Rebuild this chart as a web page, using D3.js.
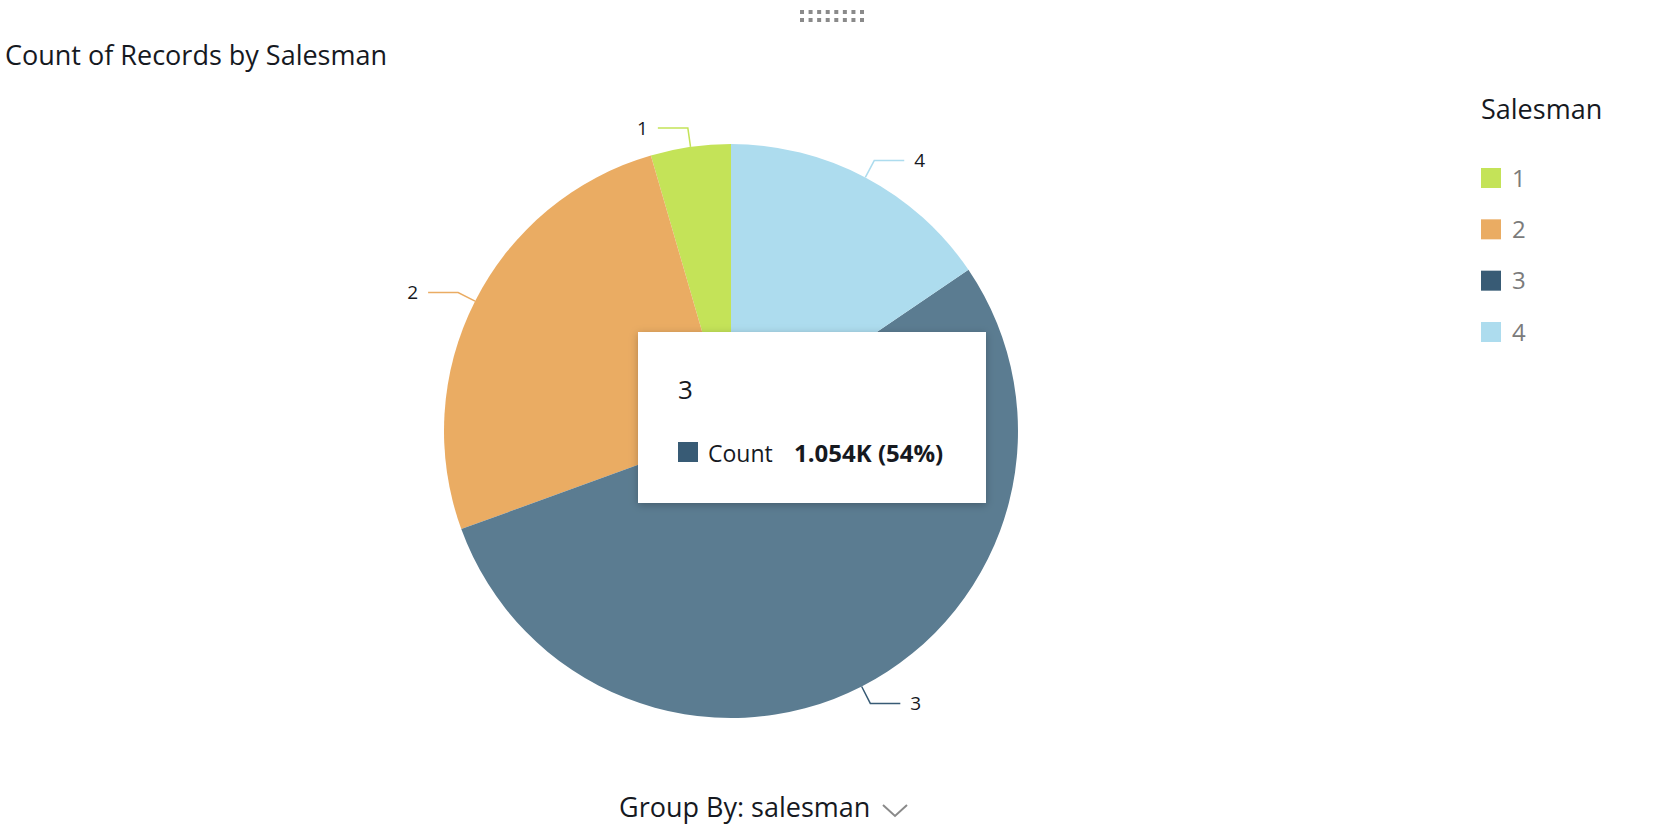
<!DOCTYPE html>
<html>
<head>
<meta charset="utf-8">
<script src="https://cdn.jsdelivr.net/npm/d3@7"></script>
<style>
  body { margin: 0; background: #fff; }
  text { font-family: "Open Sans", sans-serif; }
</style>
</head>
<body>
<script>
// data
var salesmen = ["1", "2", "3", "4"];
var counts = [88, 509, 1054, 303];
var sliceColors = ["#c4e358", "#eaac63", "#5b7c91", "#addcee"];
var legendColors = ["#c4e358", "#eaac63", "#385b75", "#addcee"];
var hovered = "3";

function init() {
    var w = 1654;
    var h = 840;
    var cx = 731, cy = 431, r = 287;

    var svg = d3.select("body")
                .append("svg")
                .attr("width", w)
                .attr("height", h);

    var defs = svg.append("defs");
    var f = defs.append("filter").attr("id", "shadow")
        .attr("x", "-10%").attr("y", "-10%").attr("width", "120%").attr("height", "130%");
    f.append("feDropShadow").attr("dx", 0).attr("dy", 2).attr("stdDeviation", 4)
        .attr("flood-color", "#000").attr("flood-opacity", 0.25);

    // drag handle dots at top
    var dotCols = d3.range(8), dotRows = d3.range(2);
    var dx = d3.scaleLinear().domain([0, 7]).range([802, 862]);
    svg.append("g").selectAll("rect")
        .data(d3.cross(dotRows, dotCols))
        .enter().append("rect")
        .attr("x", function (d) { return dx(d[1]) - 2; })
        .attr("y", function (d) { return 10 + d[0] * 8; })
        .attr("width", 4).attr("height", 4)
        .attr("fill", "#8a8a8a");

    // title
    svg.append("text")
        .attr("x", 5).attr("y", 65)
        .attr("font-size", "27px")
        .attr("fill", "#16191f")
        .text("Count of Records by Salesman");

    var data = salesmen.map(function (s, i) { return { name: s, value: counts[i], i: i }; });
    var total = d3.sum(counts);

    var pie = d3.pie()
        .sort(null)
        .value(function (d) { return d.value; })
        .startAngle(0)
        .endAngle(-2 * Math.PI);

    var arc = d3.arc().innerRadius(0).outerRadius(r);
    var arcs = pie(data);

    var g = svg.append("g").attr("transform", "translate(" + cx + "," + cy + ")");

    g.selectAll("path.slice")
        .data(arcs)
        .enter().append("path")
        .attr("class", "slice")
        .attr("d", arc)
        .attr("fill", function (d) { return sliceColors[d.data.i]; });

    // leader lines + labels
    function pt(a, rad) { return [rad * Math.sin(a), -rad * Math.cos(a)]; }
    arcs.forEach(function (d) {
        var a = (d.startAngle + d.endAngle) / 2;
        var side = Math.sin(a) < 0 ? -1 : 1;
        var p0 = pt(a, r), p1 = pt(a, r + 19);
        var p2 = [p1[0] + side * 30, p1[1]];
        g.append("polyline")
            .attr("points", [p0, p1, p2].map(function (p) { return p.join(","); }).join(" "))
            .attr("fill", "none")
            .attr("stroke", legendColors[d.data.i])
            .attr("stroke-width", 1.5);
        g.append("text")
            .attr("x", p2[0] + side * 10)
            .attr("y", p2[1])
            .attr("dy", "0.35em")
            .attr("text-anchor", side < 0 ? "end" : "start")
            .attr("font-size", "19px")
            .attr("fill", "#16191f")
            .text(d.data.name);
    });

    // legend
    var lg = svg.append("g").attr("transform", "translate(1481,0)");
    lg.append("text")
        .attr("x", 0).attr("y", 119)
        .attr("font-size", "27px")
        .attr("fill", "#16191f")
        .text("Salesman");
    var ly = d3.scalePoint().domain(salesmen).range([178, 332]);
    var items = lg.selectAll("g.item").data(data).enter().append("g").attr("class", "item")
        .attr("transform", function (d) { return "translate(0," + ly(d.name) + ")"; });
    items.append("rect")
        .attr("x", 0).attr("y", -10).attr("width", 20).attr("height", 20)
        .attr("fill", function (d) { return legendColors[d.i]; });
    items.append("text")
        .attr("x", 31).attr("y", 0).attr("dy", "0.36em")
        .attr("font-size", "24px")
        .attr("fill", "#7b7b7b")
        .text(function (d) { return d.name; });

    // tooltip for hovered slice
    var hd = data.filter(function (d) { return d.name === hovered; })[0];
    var fmt = function (v) { return d3.format(".4s")(v).replace("k", "K"); };
    var tt = svg.append("g").attr("transform", "translate(638,332)");
    tt.append("rect")
        .attr("width", 348).attr("height", 171)
        .attr("fill", "#fff")
        .attr("filter", "url(#shadow)");
    tt.append("text")
        .attr("x", 40).attr("y", 67)
        .attr("font-size", "26px")
        .attr("fill", "#16191f")
        .text(hd.name);
    tt.append("rect")
        .attr("x", 40).attr("y", 110).attr("width", 20).attr("height", 20)
        .attr("fill", legendColors[hd.i]);
    tt.append("text")
        .attr("x", 70).attr("y", 130)
        .attr("font-size", "23px")
        .attr("fill", "#16191f")
        .text("Count");
    tt.append("text")
        .attr("x", 156).attr("y", 130)
        .attr("font-size", "24px")
        .attr("font-weight", "bold")
        .attr("fill", "#16191f")
        .text(fmt(hd.value) + " (" + Math.round(hd.value / total * 100) + "%)");

    // group by control
    svg.append("text")
        .attr("x", 619).attr("y", 817)
        .attr("font-size", "27px")
        .attr("fill", "#16191f")
        .text("Group By: salesman");
    svg.append("polyline")
        .attr("points", "883,805 895,816 907,805")
        .attr("fill", "none")
        .attr("stroke", "#8a8a8a")
        .attr("stroke-width", 2);
}

window.onload = init;
</script>
</body>
</html>
